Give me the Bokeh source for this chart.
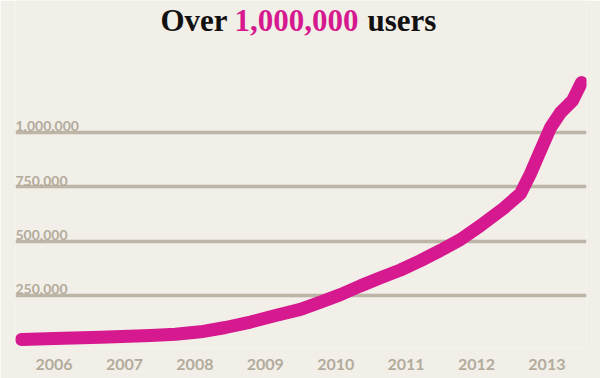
from bokeh.plotting import figure
from bokeh.models import Range1d, FixedTicker, Label, Grid
from bokeh.core.properties import value
from bokeh.embed import file_html
from bokeh.resources import INLINE

# ---- data ----
years = [2005.537, 2006.006, 2006.659, 2007.369, 2007.724, 2008.080, 2008.435,
         2008.790, 2009.145, 2009.500, 2009.784, 2010.068, 2010.352, 2010.636,
         2010.920, 2011.205, 2011.489, 2011.773, 2012.057, 2012.384, 2012.625,
         2012.767, 2012.909, 2013.051, 2013.193, 2013.364, 2013.491]
users = [48000, 52000, 58000, 66000, 72000, 83000, 103000,
         128000, 158000, 186000, 219000, 254000, 294000, 331000,
         367000, 410000, 457000, 507000, 571000, 650000, 718000,
         810000, 916000, 1021000, 1090000, 1145000, 1228000]

x_ticks = [2006, 2007, 2008, 2009, 2010, 2011, 2012, 2013]
x_tick_labels = ["2006", "2007", "2008", "2009", "2010", "2011", "2012", "2013"]
y_ticks = [250000, 500000, 750000, 1000000]
y_tick_labels = ["250,000", "500,000", "750,000", "1,000,000"]

title_before = "Over"
title_number = "1,000,000"
title_after = "users"

# ---- styles ----
BG = "#f2efe8"
MAGENTA = "#d6198f"
GRID = "#bdb5a6"
LABEL = "#b3ab9c"

FRAME_H = 348
p = figure(frame_width=571, frame_height=FRAME_H,
           min_border_left=15, min_border_right=14, min_border_top=0, min_border_bottom=30,
           x_range=Range1d(2005.4517, 2013.5625),
           y_range=Range1d(6431, 1604961),
           y_axis_location=None,
           output_backend="svg", toolbar_location=None,
           background_fill_color=BG, border_fill_color=BG,
           outline_line_color=None)

p.xgrid.visible = False
for g in p.ygrid:
    g.visible = False
p.add_layout(Grid(dimension=1, ticker=FixedTicker(ticks=y_ticks),
                  grid_line_color=GRID, grid_line_width=3.5))

ax = p.xaxis[0]
ax.ticker = FixedTicker(ticks=x_ticks)
ax.major_label_overrides = {t: s for t, s in zip(x_ticks, x_tick_labels)}
ax.axis_line_color = None
ax.major_tick_line_color = None
ax.minor_tick_line_color = None
ax.major_tick_out = 0
ax.major_label_standoff = 10
ax.major_label_text_font = "Lato"
ax.major_label_text_font_style = "bold"
ax.major_label_text_font_size = "16px"
ax.major_label_text_color = LABEL

# y tick labels sitting on top of the grid lines
p.text(x=[p.x_range.start] * len(y_ticks), y=y_ticks, text=y_tick_labels,
       text_font=value("Lato"), text_font_size="14px", text_font_style="bold",
       text_color=LABEL, text_baseline="alphabetic", text_align="left",
       y_offset=-6)

p.line(years, users, line_color=MAGENTA, line_width=13,
       line_cap="round", line_join="round")

# title in three coloured parts
ty = FRAME_H - 20
common = dict(x_units="screen", y_units="screen", text_font="Liberation Serif",
              text_font_style="bold", text_font_size="31px", text_baseline="alphabetic")
p.add_layout(Label(x=145, y=ty, text=title_before, text_color="#111111",
                   text_align="left", **common))
p.add_layout(Label(x=219, y=ty, text=title_number, text_color=MAGENTA,
                   text_align="left", **common))
p.add_layout(Label(x=352, y=ty, text=title_after, text_color="#111111",
                   text_align="left", **common))

open("out.html", "w").write(file_html(p, INLINE))
